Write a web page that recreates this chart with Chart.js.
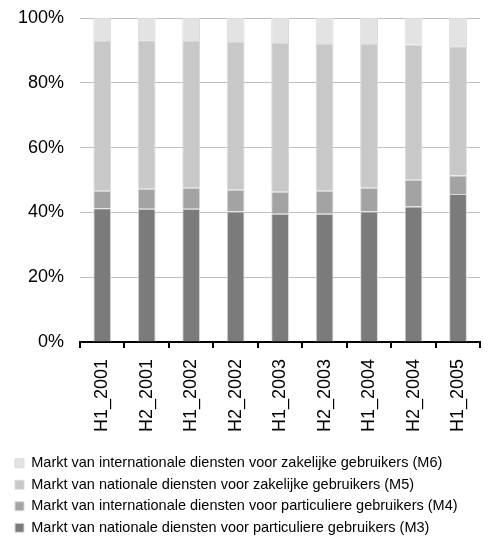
<!DOCTYPE html>
<html>
<head>
<meta charset="utf-8">
<script src="https://cdn.jsdelivr.net/npm/chart.js@4"></script>
<style>
  html, body { margin: 0; padding: 0; background: #fff; }
  #wrap { width: 491px; height: 536px; }
</style>
</head>
<body>
<div id="wrap"><canvas id="chart" width="491" height="536"></canvas></div>
<script>
// periods on the x axis
const periods = ["H1_2001", "H2_2001", "H1_2002", "H2_2002", "H1_2003", "H2_2003", "H1_2004", "H2_2004", "H1_2005"];

// shares in % (stacked, bottom to top)
const m3 = [41.3, 41.1, 41.1, 40.3, 39.6, 39.6, 40.3, 41.8, 45.7];
const m4 = [5.4, 6.2, 6.5, 6.7, 6.8, 7.1, 7.3, 8.3, 5.7];
const m5 = [46.2, 45.8, 45.3, 45.6, 45.9, 45.3, 44.4, 41.7, 39.9];
const m6 = [7.1, 6.9, 7.1, 7.4, 7.7, 8.0, 8.0, 8.2, 8.7];

const yTicks = [0, 20, 40, 60, 80, 100];

const font = "'Liberation Sans', Arial, sans-serif";

function ds(label, data, color) {
    return {
        label: label,
        data: data,
        backgroundColor: color,
        borderColor: "#d9d9d9",
        borderWidth: 1,
        barPercentage: 0.4,
        categoryPercentage: 1
    };
}

// nudge the legend a bit lower than chart.js puts it
const legendShift = {
    id: "legendShift",
    afterLayout(chart) {
        chart.legend.top += 9;
        chart.legend.bottom += 9;
    }
};

new Chart(document.getElementById("chart").getContext("2d"), {
    type: "bar",
    data: {
        labels: periods,
        datasets: [
            ds("Markt van nationale diensten voor particuliere gebruikers (M3)", m3, "#7b7b7b"),
            ds("Markt van internationale diensten voor particuliere gebruikers (M4)", m4, "#a3a3a3"),
            ds("Markt van nationale diensten voor zakelijke gebruikers (M5)", m5, "#c8c8c8"),
            ds("Markt van internationale diensten voor zakelijke gebruikers (M6)", m6, "#e3e3e3")
        ]
    },
    plugins: [legendShift],
    options: {
        responsive: false,
        animation: false,
        layout: { padding: { left: 8, right: 7, top: 18, bottom: 0 } },
        plugins: {
            tooltip: { enabled: false },
            legend: {
                position: "bottom",
                align: "start",
                reverse: true,
                labels: {
                    boxWidth: 9,
                    boxHeight: 9,
                    padding: 7,
                    color: "#000",
                    font: { family: font, size: 14.5 }
                }
            }
        },
        scales: {
            x: {
                stacked: true,
                afterFit: s => { s.height = 98; },
                grid: {
                    offset: true,
                    drawOnChartArea: false,
                    drawTicks: true,
                    tickLength: 6,
                    color: "#000",
                    lineWidth: 2
                },
                border: { display: true, color: "#000", width: 2 },
                ticks: {
                    color: "#000",
                    minRotation: 90,
                    maxRotation: 90,
                    padding: 11,
                    font: { family: font, size: 18 }
                }
            },
            y: {
                stacked: true,
                min: 0,
                max: 100,
                afterFit: s => { s.width = 72; },
                afterBuildTicks: s => { s.ticks = yTicks.map(v => ({ value: v })); },
                grid: { color: "#c0c0c0", lineWidth: 1, drawTicks: true, tickLength: 16, tickColor: "rgba(0,0,0,0)" },
                border: { display: false },
                ticks: {
                    color: "#000",
                    padding: 0,
                    font: { family: font, size: 18 },
                    callback: v => v + "%"
                }
            }
        }
    }
});
</script>
</body>
</html>
